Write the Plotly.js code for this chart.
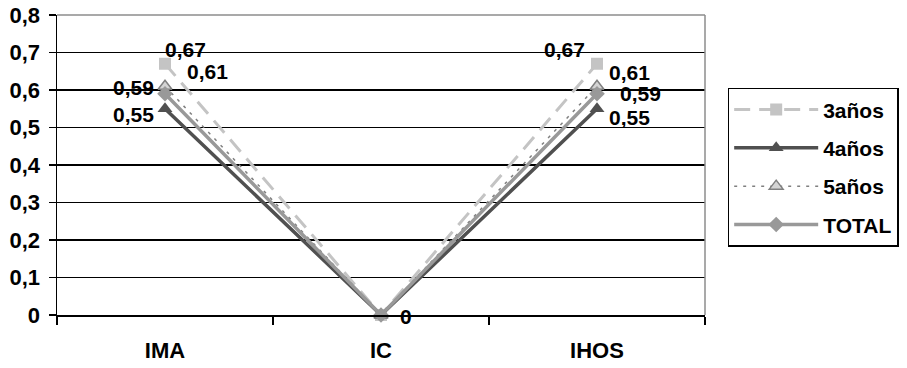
<!DOCTYPE html>
<html>
<head>
<meta charset="utf-8">
<script src="https://cdn.plot.ly/plotly-3.0.1.min.js"></script>
<style>html,body{margin:0;padding:0;background:#fff;}#chart{width:907px;height:368px;}</style>
</head>
<body>
<div id="chart"></div>
<script>
const categories = ["IMA", "IC", "IHOS"];
const seriesNames = ["3años", "4años", "5años", "TOTAL"];
const values3 = [0.67, 0, 0.67];
const values4 = [0.55, 0, 0.55];
const values5 = [0.61, 0, 0.61];
const valuesTotal = [0.59, 0, 0.59];
const yTicks = [0, 0.1, 0.2, 0.3, 0.4, 0.5, 0.6, 0.7, 0.8];

const fmt = v => String(v).replace('.', ',');
const allValues = [values3, values4, values5, valuesTotal];
const FONT = 'Liberation Sans, Arial, sans-serif';

const styles = [
  {line: {color: '#c4c4c4', width: 3, dash: '16px,9px'}, marker: {symbol: 'square', size: 12, color: '#c4c4c4'}},
  {line: {color: '#505050', width: 3.5}, marker: {symbol: 'triangle-up', size: 13, color: '#505050'}},
  {line: {color: '#808080', width: 1.5, dash: '3px,6px'}, marker: {symbol: 'triangle-up', size: 12, color: '#d4d4d4', line: {color: '#808080', width: 1.5}}},
  {line: {color: '#999999', width: 3.5}, marker: {symbol: 'diamond', size: 12, color: '#999999'}}
];

const traces = allValues.map((vals, i) => ({
  type: 'scatter', mode: 'lines+markers', name: seriesNames[i], legendgroup: 'g' + i,
  x: categories, y: vals, line: styles[i].line, marker: styles[i].marker,
  cliponaxis: false
}));

// label offsets [xshift, yshift] per series per category
const offsets = [
  [[20, 14], null, [-33, 14]],
  [[-32, -6], null, [32, -9]],
  [[42, 15], null, [32, 14]],
  [[-32, 6], null, [43, 0]]
];
const labelFont = {family: FONT, size: 21, color: '#000', weight: 'bold'};
const annotations = [];
allValues.forEach((vals, s) => {
  vals.forEach((v, c) => {
    const off = offsets[s][c];
    if (!off) return;
    annotations.push({x: categories[c], y: v, text: fmt(v), showarrow: false,
      xshift: off[0], yshift: off[1], font: labelFont});
  });
});
annotations.push({x: categories[1], y: values3[1], text: fmt(values3[1]), showarrow: false,
  xshift: 25, yshift: -1, font: labelFont});

const layout = {
  width: 907, height: 368,
  margin: {l: 57, r: 202, t: 15, b: 53, autoexpand: false},
  paper_bgcolor: '#fff', plot_bgcolor: '#fff',
  separators: ',.',
  font: {family: FONT, size: 21, color: '#000', weight: 'bold'},
  showlegend: true,
  legend: {x: 1.035, y: 0.757, xanchor: 'left', yanchor: 'top',
    bordercolor: '#000', borderwidth: 1.5, bgcolor: '#fff',
    font: {size: 21, weight: 'bold'}, tracegroupgap: 8, itemwidth: 84},
  xaxis: {type: 'category', range: [-0.5, 2.5], showgrid: false, zeroline: false,
    showline: true, linecolor: '#000', linewidth: 1.5,
    ticks: 'outside', tickson: 'boundaries', ticklen: 8, tickcolor: '#000', tickwidth: 1.5,
    tickfont: {size: 22, weight: 'bold'}, ticklabelstandoff: 15},
  yaxis: {range: [0, 0.8], tickvals: yTicks, ticktext: yTicks.map(fmt),
    showgrid: true, gridcolor: '#000', gridwidth: 1.2, zeroline: false,
    showline: true, linecolor: '#000', linewidth: 1.5,
    ticks: 'outside', ticklen: 7, tickcolor: '#000', tickwidth: 1.5,
    tickfont: {size: 22, weight: 'bold'}, ticklabelstandoff: 4},
  shapes: [
    {type: 'line', xref: 'paper', yref: 'paper', x0: 0, x1: 1, y0: 1, y1: 1, line: {color: '#8c8c8c', width: 1.5}, layer: 'above'},
    {type: 'line', xref: 'paper', yref: 'paper', x0: 1, x1: 1, y0: 0, y1: 1, line: {color: '#8c8c8c', width: 1.5}, layer: 'above'}
  ],
  annotations: annotations
};

Plotly.newPlot('chart', traces, layout, {displayModeBar: false, staticPlot: true});
</script>
</body>
</html>
